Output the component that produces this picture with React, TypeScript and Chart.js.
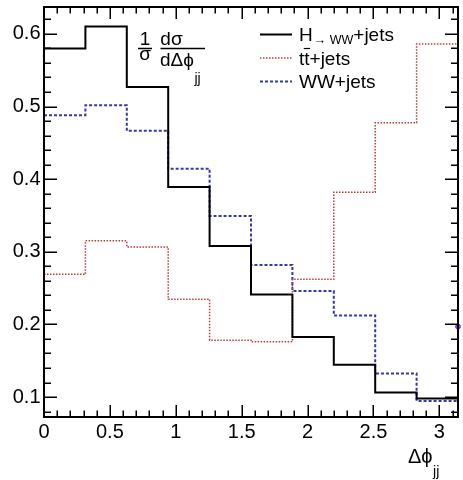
import React, { useEffect, useRef } from "react";
import { Chart, registerables } from "chart.js";

Chart.register(...registerables);

// ---- data ----
const binEdges = [0, 0.3142, 0.6283, 0.9425, 1.2566, 1.5708, 1.885, 2.1991, 2.5133, 2.8274, 3.1416];
const higgsJets = [0.58, 0.61, 0.527, 0.389, 0.308, 0.241, 0.1825, 0.1444, 0.1062, 0.098];
const ttbarJets = [0.269, 0.315, 0.3066, 0.2345, 0.1783, 0.176, 0.262, 0.382, 0.4777, 0.586];
const wwJets = [0.488, 0.5016, 0.4667, 0.4142, 0.3494, 0.2818, 0.246, 0.2124, 0.1324, 0.0947];
const edgeMarker = [{ x: 3.1416, y: 0.197 }];
const xTickValues = [0, 0.5, 1, 1.5, 2, 2.5, 3];
const yTickValues = [0.1, 0.2, 0.3, 0.4, 0.5, 0.6];
const xRange = [0, 3.1416];
const yRange = [0.0725, 0.637];
const legendLabels = ["+jets", "tt+jets", "WW+jets"];

const FONT = "'Liberation Sans', Arial, Helvetica, sans-serif";
const PHI = "\u03D5";

function toSteps(vals: number[]) {
  const pts = vals.map((v, i) => ({ x: binEdges[i], y: v }));
  pts.push({ x: binEdges[vals.length], y: vals[vals.length - 1] });
  return pts;
}

const rootStyle = {
  id: "rootStyle",
  afterDraw(chart: any) {
    const { ctx, chartArea, scales } = chart;
    const { left, right, top, bottom } = chartArea;
    const xs = scales.x;
    const ys = scales.y;
    ctx.save();
    ctx.strokeStyle = "#000";
    ctx.setLineDash([]);
    // ticks
    ctx.lineWidth = 1.5;
    for (let i = 0; i <= 31; i++) {
      const px = Math.round(xs.getPixelForValue(i * 0.1)) + 0.25;
      const len = i % 5 === 0 ? 12 : 6.5;
      ctx.beginPath();
      ctx.moveTo(px, bottom);
      ctx.lineTo(px, bottom - len);
      ctx.moveTo(px, top);
      ctx.lineTo(px, top + len);
      ctx.stroke();
    }
    for (let i = 4; i <= 31; i++) {
      const py = Math.round(ys.getPixelForValue(i * 0.02)) + 0.25;
      const len = i % 5 === 0 ? 13 : 7;
      ctx.beginPath();
      ctx.moveTo(left, py);
      ctx.lineTo(left + len, py);
      ctx.moveTo(right, py);
      ctx.lineTo(right - len, py);
      ctx.stroke();
    }
    // frame
    ctx.lineWidth = 2;
    ctx.strokeRect(left, top, right - left, bottom - top);

    ctx.fillStyle = "#000";
    ctx.textBaseline = "alphabetic";
    ctx.textAlign = "left";

    // y title: 1/σ dσ/dΔφ_jj
    ctx.font = `19px ${FONT}`;
    ctx.textAlign = "center";
    ctx.fillText("1", 145, 44.5);
    ctx.fillText("σ", 145, 59.5);
    ctx.lineWidth = 1.3;
    ctx.beginPath();
    ctx.moveTo(138, 48.5);
    ctx.lineTo(152, 48.5);
    ctx.moveTo(160.5, 48.5);
    ctx.lineTo(205, 48.5);
    ctx.stroke();
    ctx.fillText("dσ", 171.5, 44.5);
    ctx.textAlign = "left";
    const den = "dΔ" + PHI;
    ctx.fillText(den, 160, 65.5);
    const w1 = ctx.measureText(den).width;
    ctx.font = `14px ${FONT}`;
    ctx.fillText("jj", 160 + w1 + 0.5, 83);

    // x title Δφ_jj
    ctx.font = `20px ${FONT}`;
    const xt = "Δ" + PHI;
    ctx.fillText(xt, 408, 462.5);
    const w2 = ctx.measureText(xt).width;
    ctx.font = `14px ${FONT}`;
    ctx.fillText("jj", 408 + w2 + 0.5, 476);

    // legend
    const rows = [34.5, 58, 81.5];
    const styles = [
      { c: "#000", w: 2, d: [] as number[] },
      { c: "rgb(185,60,60)", w: 1.5, d: [1.5, 1.5] },
      { c: "rgb(55,55,170)", w: 2, d: [3, 2] },
    ];
    rows.forEach((ry, i) => {
      ctx.strokeStyle = styles[i].c;
      ctx.lineWidth = styles[i].w;
      ctx.setLineDash(styles[i].d);
      ctx.beginPath();
      ctx.moveTo(260, ry);
      ctx.lineTo(292, ry);
      ctx.stroke();
    });
    ctx.setLineDash([]);
    ctx.strokeStyle = "#000";
    const tx = 299;
    // row 1: H_{→ WW}+jets
    ctx.font = `19px ${FONT}`;
    ctx.fillText("H", tx, 40.7);
    let cx = tx + ctx.measureText("H").width + 1;
    ctx.font = `12.5px ${FONT}`;
    ctx.fillText("→ WW", cx, 43.5);
    cx += ctx.measureText("→ WW").width;
    ctx.font = `19px ${FONT}`;
    ctx.fillText(legendLabels[0], cx, 40.7);
    // row 2: tt̄+jets
    ctx.fillText(legendLabels[1], tx, 64.5);
    const tW = ctx.measureText("t").width;
    ctx.lineWidth = 1.2;
    ctx.beginPath();
    ctx.moveTo(tx + tW - 0.5, 48.5);
    ctx.lineTo(tx + 2 * tW + 0.5, 48.5);
    ctx.stroke();
    // row 3
    ctx.fillText(legendLabels[2], tx, 88);
    ctx.restore();
  },
};

export default function App() {
  const ref = useRef<HTMLCanvasElement | null>(null);
  useEffect(() => {
    document.body.style.margin = "0";
    if (!ref.current) return;
    const chart = new Chart(ref.current, {
      type: "line",
      data: {
        datasets: [
          {
            label: "H→WW+jets",
            data: toSteps(higgsJets),
            borderColor: "#000",
            borderWidth: 2,
            stepped: true,
            pointRadius: 0,
            fill: false,
          },
          {
            label: "tt+jets",
            data: toSteps(ttbarJets),
            borderColor: "rgb(185,60,60)",
            borderWidth: 1.5,
            borderDash: [1.5, 1.5],
            stepped: true,
            pointRadius: 0,
            fill: false,
          },
          {
            label: "WW+jets",
            data: toSteps(wwJets),
            borderColor: "rgb(55,55,170)",
            borderWidth: 2,
            borderDash: [3, 2],
            stepped: true,
            pointRadius: 0,
            fill: false,
          },
          {
            type: "scatter",
            label: "marker",
            data: edgeMarker,
            backgroundColor: "rgb(140,70,180)",
            borderColor: "rgb(140,70,180)",
            pointRadius: 2.5,
            clip: false,
          } as any,
        ],
      },
      options: {
        animation: false,
        responsive: false,
        maintainAspectRatio: false,
        layout: { padding: { left: 0, right: 1, top: 7, bottom: 0 } },
        plugins: {
          legend: { display: false },
          tooltip: { enabled: false },
        },
        scales: {
          x: {
            type: "linear",
            min: xRange[0],
            max: xRange[1],
            grid: { display: false, drawTicks: false },
            border: { display: false },
            ticks: {
              color: "#000",
              font: { size: 20, family: FONT },
              padding: 3,
              maxRotation: 0,
              autoSkip: false,
              callback: (v: any) => String(v),
            },
            afterBuildTicks: (s: any) => {
              s.ticks = xTickValues.map((v) => ({ value: v }));
            },
            afterFit: (s: any) => {
              s.height = 63;
              s.paddingLeft = 0;
              s.paddingRight = 0;
            },
          },
          y: {
            type: "linear",
            min: yRange[0],
            max: yRange[1],
            grid: { display: false, drawTicks: false },
            border: { display: false },
            ticks: {
              color: "#000",
              font: { size: 20, family: FONT },
              padding: 3.5,
              autoSkip: false,
              callback: (v: any) => Number(v).toFixed(1),
            },
            afterBuildTicks: (s: any) => {
              s.ticks = yTickValues.map((v) => ({ value: v }));
            },
            afterFit: (s: any) => {
              s.width = 44;
              s.paddingTop = 0;
              s.paddingBottom = 0;
            },
          },
        },
      },
      plugins: [rootStyle],
    });
    return () => chart.destroy();
  }, []);
  return (
    <div style={{ position: "absolute", left: 0, top: 0, width: 463, height: 480, background: "#fff" }}>
      <canvas ref={ref} width={463} height={480} style={{ display: "block" }} />
    </div>
  );
}
